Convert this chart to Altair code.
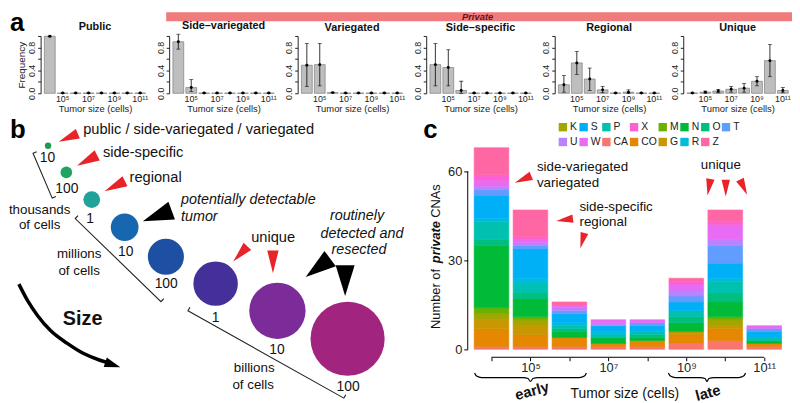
import altair as alt
import pandas as pd

FONT = "Liberation Sans"

# ---------------- panel a : frequency of each class by tumor size ----------------
size_exp = [4, 5, 6, 7, 8, 9, 10, 11]
class_names = ["Public", "Side\u2013variegated", "Variegated",
               "Side\u2013specific", "Regional", "Unique"]

public_mean = [0.995, 0.004, 0.004, 0.004, 0.004, 0.004, 0.004, 0.004]
public_lo = [0.985, 0.0, 0.0, 0.0, 0.0, 0.0, 0.0, 0.0]
public_hi = [1.0, 0.008, 0.008, 0.008, 0.008, 0.008, 0.008, 0.008]

sidevar_mean = [0.90, 0.10, 0.005, 0.004, 0.004, 0.004, 0.004, 0.004]
sidevar_lo = [0.77, 0.03, 0.0, 0.0, 0.0, 0.0, 0.0, 0.0]
sidevar_hi = [1.03, 0.24, 0.01, 0.008, 0.008, 0.008, 0.008, 0.008]

var_mean = [0.49, 0.50, 0.012, 0.004, 0.004, 0.004, 0.004, 0.004]
var_lo = [0.12, 0.13, 0.005, 0.0, 0.0, 0.0, 0.0, 0.0]
var_hi = [0.87, 0.87, 0.02, 0.008, 0.008, 0.008, 0.008, 0.008]

sidespec_mean = [0.50, 0.45, 0.05, 0.005, 0.004, 0.004, 0.004, 0.004]
sidespec_lo = [0.13, 0.13, 0.0, 0.0, 0.0, 0.0, 0.0, 0.0]
sidespec_hi = [0.87, 0.76, 0.21, 0.01, 0.008, 0.008, 0.008, 0.008]

regional_mean = [0.15, 0.53, 0.25, 0.06, 0.005, 0.02, 0.005, 0.004]
regional_lo = [0.02, 0.33, 0.05, 0.01, 0.0, 0.0, 0.0, 0.0]
regional_hi = [0.31, 0.73, 0.44, 0.12, 0.01, 0.06, 0.01, 0.008]

unique_mean = [0.005, 0.02, 0.04, 0.07, 0.09, 0.21, 0.57, 0.05]
unique_lo = [0.0, 0.005, 0.01, 0.02, 0.02, 0.13, 0.29, 0.01]
unique_hi = [0.01, 0.04, 0.07, 0.12, 0.17, 0.29, 0.85, 0.10]

class_values = [
    (public_mean, public_lo, public_hi),
    (sidevar_mean, sidevar_lo, sidevar_hi),
    (var_mean, var_lo, var_hi),
    (sidespec_mean, sidespec_lo, sidespec_hi),
    (regional_mean, regional_lo, regional_hi),
    (unique_mean, unique_lo, unique_hi),
]

# ---------------- panel c : private CNAs per size class ----------------
cna_categories = ["CA", "CO", "G", "K", "M", "N", "O", "P",
                  "R", "S", "T", "U", "W", "X", "Z"]
cna_colors = ["#F8766D", "#E58700", "#C99800", "#A3A500", "#6BB100",
              "#00BA38", "#00BF7D", "#00C0AF", "#00BCD8", "#00B0F6",
              "#619CFF", "#B983FF", "#E76BF3", "#FD61D1", "#FF67A4"]
cna_counts = {
    "CA": [1, 1, 1, 1, 1, 2, 3, 1],
    "CO": [6, 4, 3, 1, 2, 3, 4, 1],
    "G": [3, 3, 0, 0, 0, 1, 1, 0],
    "K": [2, 2, 0, 0, 0, 0, 2, 0],
    "M": [2, 1, 0, 0, 0, 0, 1, 0],
    "N": [21, 6, 2, 2, 1, 3, 5, 1],
    "O": [2, 2, 1, 0, 1, 2, 3, 0],
    "P": [6, 3, 1, 1, 1, 2, 4, 1],
    "R": [1, 2, 1, 1, 0, 0, 1, 0],
    "S": [8, 10, 3, 2, 2, 3, 5, 2],
    "T": [2, 1, 1, 0, 1, 2, 6, 1],
    "U": [1, 1, 1, 1, 0, 2, 2, 0],
    "W": [2, 1, 1, 1, 1, 2, 5, 1],
    "X": [2, 1, 0, 0, 0, 1, 1, 0],
    "Z": [9, 9, 1, 0, 0, 1, 4, 0],
}
legend_order = ["K", "S", "P", "X", "M", "N", "O", "T",
                "U", "W", "CA", "CO", "G", "R", "Z"]

# ---------------- panel b : schematic of tumour growth ----------------
circle_x = [47.5, 66, 91.7, 125, 166.7, 217, 279.5, 350.5]
circle_y = [143, 170, 197.5, 225.5, 255.3, 282.5, 310, 338.3]
circle_d = [6.5, 11.7, 17, 28, 36.5, 45, 57, 75]
circle_col = ["#1E9B50", "#1FA463", "#22A39A", "#1766B0",
              "#1D4FA2", "#45309A", "#7B2C99", "#A1247F"]
circle_lab = ["10", "100", "1", "10", "100", "1", "10", "100"]
circle_lab_x = [47, 66.5, 90, 126, 167, 217, 279, 351]
circle_lab_y = [155, 187, 217, 251, 283, 317, 350, 387]

SUP_EXPR = ("datum.value == 5 ? '10\u2075' : datum.value == 7 ? '10\u2077' : "
            "datum.value == 9 ? '10\u2079' : datum.value == 11 ? '10\u00b9\u00b9' : ''")

TRI_RED = "M0,-1L0.5,1L-0.5,1Z"
TRI_WIDE = "M0,-1L0.62,1L-0.62,1Z"


def panel_a(name, vals, first):
    mean, lo, hi = vals
    df = pd.DataFrame({"exp": size_exp, "mean": mean, "lo": lo, "hi": hi})
    xsc = alt.Scale(paddingInner=0.16, paddingOuter=0.06)
    xax = alt.Axis(labelExpr=SUP_EXPR, ticks=False, domain=False, labelAngle=0,
                   labelFontSize=9, labelPadding=1, title="Tumor size (cells)",
                   titleFontSize=9.5, titleFontWeight="normal", titlePadding=0,
                   labelColor="#222", titleColor="#222", labelFont=FONT, titleFont=FONT)
    ysc = alt.Scale(domain=[0, 1], nice=False, zero=False)
    yax_kw = dict(values=[0, 0.2, 0.4, 0.6, 0.8, 1.0],
                  labelExpr="datum.value == 0 ? '0.0' : datum.value == 0.4 ? '0.4' : datum.value == 0.8 ? '0.8' : ''",
                  labelAngle=270, labelAlign="center", labelBaseline="bottom",
                  labelFontSize=9, labelPadding=1, tickSize=3, tickColor="#222",
                  domainColor="#222", offset=3, grid=False, labelColor="#222",
                  labelFont=FONT)
    if first:
        yax = alt.Axis(title="Frequency", titleFontSize=10, titleFontWeight="normal",
                       titlePadding=1, titleColor="#222", titleFont=FONT, **yax_kw)
    else:
        yax = alt.Axis(title=None, **yax_kw)
    X = alt.X("exp:O", scale=xsc, axis=xax)

    def Y(f):
        return alt.Y(f + ":Q", scale=ysc, axis=yax)

    base = alt.Chart(df)
    bars = base.mark_bar(fill="#BEBEBE", stroke="#6F6F6F", strokeWidth=0.6).encode(x=X, y=Y("mean"))
    err = base.mark_rule(color="black", strokeWidth=0.8).encode(x=X, y=Y("lo"), y2="hi:Q")
    cap_lo = base.mark_tick(color="black", size=4, thickness=0.8).encode(x=X, y=Y("lo"))
    cap_hi = base.mark_tick(color="black", size=4, thickness=0.8).encode(x=X, y=Y("hi"))
    pt = base.mark_circle(color="black", size=9, opacity=1).encode(x=X, y=Y("mean"))
    return alt.layer(bars, err, cap_lo, cap_hi, pt).properties(
        width=104, height=58,
        title=alt.TitleParams(text=name, fontSize=11, fontWeight="bold", offset=3,
                              frame="group", anchor="middle", color="#111", font=FONT))


panels = [panel_a(n, v, i == 0) for i, (n, v) in enumerate(zip(class_names, class_values))]
rowA = alt.hconcat(*panels, spacing=26, bounds="flush")

# ---------------- banner ----------------
banner_df = pd.DataFrame({"start": [167], "end": [800], "mid": [482], "label": ["Private"]})
bnx = alt.Scale(domain=[43, 800], nice=False, zero=False)
banner_rect = alt.Chart(banner_df).mark_rect(color="#F17B7C").encode(
    x=alt.X("start:Q", scale=bnx, axis=None), x2="end:Q",
    y=alt.value(0), y2=alt.value(9))
banner_txt = alt.Chart(banner_df).mark_text(
    font=FONT, fontSize=9.5, fontWeight="bold", fontStyle="italic", color="#6D0F12",
    baseline="middle").encode(x=alt.X("mid:Q", scale=bnx, axis=None), y=alt.value(4.5), text="label:N")
letter_a = alt.Chart(pd.DataFrame({"t": ["a"]})).mark_text(
    font=FONT, fontSize=26, fontWeight="bold", align="left", baseline="alphabetic",
    color="black").encode(x=alt.value(-34), y=alt.value(19), text="t:N")
banner = alt.layer(banner_rect, banner_txt, letter_a).properties(width=757, height=9)

# ---------------- panel b layers ----------------
bX = alt.Scale(domain=[43, 443], nice=False, zero=False)
bY = alt.Scale(domain=[139, 349], nice=False, zero=False, reverse=True)


def bx(f="px"):
    return alt.X(f + ":Q", scale=bX, axis=None)


def by(f="py"):
    return alt.Y(f + ":Q", scale=bY, axis=None)


bracket_df = pd.DataFrame({
    "g": [0] * 4 + [1] * 4 + [2] * 4,
    "i": [0, 1, 2, 3] * 3,
    "px": [36, 32.3, 51.7, 55.4, 77.8, 75, 161.7, 164.5, 191, 189, 346.7, 348.7],
    "py": [149.1, 150.7, 196, 194.4, 213.8, 216.7, 300.7, 297.8, 306.5, 310, 398.3, 394.8],
})
brackets = alt.Chart(bracket_df).mark_line(color="#222", strokeWidth=1.1).encode(
    x=bx(), y=by(), detail="g:N", order="i:Q")

arc_df = pd.DataFrame({"i": list(range(8)),
                       "px": [18, 27, 37, 50, 67, 83, 100, 110],
                       "py": [283, 300, 315, 330, 343, 353, 360, 363]})
arc = alt.Chart(arc_df).mark_line(color="black", strokeWidth=3.5, interpolate="monotone").encode(
    x=bx(), y=by(), order="i:Q")

circ_df = pd.DataFrame({"px": circle_x, "py": circle_y,
                        "d2": [d * d for d in circle_d], "col": circle_col})
circles = alt.Chart(circ_df).mark_circle(opacity=1).encode(
    x=bx(), y=by(), size=alt.Size("d2:Q", scale=None), color=alt.Color("col:N", scale=None))

red_b = pd.DataFrame({"px": [68, 87, 115, 242, 275], "py": [135, 158, 184, 252.5, 260.5],
                      "ang": [247, 243, 244, 223, 180], "len": [21, 23, 23, 21, 23]})
red_b["s"] = red_b["len"] ** 2
red_tri_b = alt.Chart(red_b).mark_point(shape=TRI_RED, filled=True, opacity=1, color="#E8232A",
                                        strokeWidth=0).encode(
    x=bx(), y=by(), angle=alt.Angle("ang:Q", scale=None), size=alt.Size("s:Q", scale=None))

blk_b = pd.DataFrame({"px": [158, 320.5, 348, 113], "py": [214, 266.5, 279.5, 364.5],
                      "ang": [250, 233, 180, 108], "len": [31, 31, 31, 16]})
blk_b["s"] = blk_b["len"] ** 2
blk_tri_b = alt.Chart(blk_b).mark_point(shape=TRI_WIDE, filled=True, opacity=1, color="black",
                                        strokeWidth=0).encode(
    x=bx(), y=by(), angle=alt.Angle("ang:Q", scale=None), size=alt.Size("s:Q", scale=None))


def tlayer_b(df, **kw):
    return alt.Chart(df).mark_text(font=FONT, baseline="middle", color="#111", **kw).encode(
        x=bx(), y=by(), text="t:N", size=alt.Size("fs:Q", scale=None))


b_left = pd.DataFrame({"t": ["public / side-variegated / variegated", "side-specific",
                             "regional", "unique"],
                       "px": [83, 103, 130, 253], "py": [127, 150, 176, 236], "fs": [14.8] * 4})
b_ital_left = pd.DataFrame({"t": ["potentially detectable", "tumor"],
                            "px": [182, 182], "py": [198, 215], "fs": [14.5, 14.5]})
b_ital_c = pd.DataFrame({"t": ["routinely", "detected and", "resected"],
                         "px": [360, 365, 362], "py": [214, 232, 249], "fs": [14.5] * 3})
b_center = pd.DataFrame({
    "t": circle_lab + ["thousands", "of cells", "millions", "of cells", "billions", "of cells"],
    "px": circle_lab_x + [39, 39, 79, 79, 256, 255],
    "py": circle_lab_y + [208, 223, 253, 270, 368, 385],
    "fs": [14] * 8 + [13.5] * 6})
b_size = pd.DataFrame({"t": ["Size"], "px": [82.5], "py": [318], "fs": [20]})

letter_b = alt.Chart(pd.DataFrame({"t": ["b"], "px": [9], "py": [135]})).mark_text(
    font=FONT, fontSize=26, fontWeight="bold", align="left", baseline="alphabetic",
    color="black").encode(x=bx(), y=by(), text="t:N")

panel_b = alt.layer(
    brackets, arc, circles, red_tri_b, blk_tri_b,
    tlayer_b(b_left, align="left"),
    tlayer_b(b_ital_left, align="left", fontStyle="italic"),
    tlayer_b(b_ital_c, align="center", fontStyle="italic"),
    tlayer_b(b_center, align="center"),
    tlayer_b(b_size, align="center", fontWeight="bold"),
    letter_b,
).properties(width=400, height=210)

# ---------------- panel c layers ----------------
C_DOM_X = [3.39, 11.51]
C_DOM_Y = [0, 70]
C_W, C_H, C_LEFT, C_TOP = 320, 210, 472, 139


def c_ex(px):  # page position -> size exponent units of panel c
    return C_DOM_X[0] + (px - C_LEFT) * (C_DOM_X[1] - C_DOM_X[0]) / C_W


def c_ey(py):  # page position -> count units of panel c
    return (C_TOP + C_H - py) * (C_DOM_Y[1] - C_DOM_Y[0]) / C_H


rows = []
for k, cat in enumerate(cna_categories):
    for e, n in zip(size_exp, cna_counts[cat]):
        if n > 0:
            rows.append({"exp": e, "lo": e - 0.445, "hi": e + 0.445, "cat": cat, "n": n, "ord": k})
cdf = pd.DataFrame(rows)

cXs = alt.Scale(domain=C_DOM_X, nice=False, zero=False)
cYs = alt.Scale(domain=C_DOM_Y, nice=False, zero=False)
cXax = alt.Axis(values=size_exp, labelExpr=SUP_EXPR, domain=False, tickSize=3.5,
                tickColor="black", offset=8, labelFontSize=13, labelPadding=1,
                title=None, grid=False, labelColor="#222", labelFont=FONT)
cYax = alt.Axis(values=[0, 30, 60], domain=False, tickSize=4, tickColor="black",
                labelFontSize=13, labelPadding=2, title=None, grid=False,
                labelColor="#222", labelFont=FONT)


def CX(f):
    return alt.X(f + ":Q", scale=cXs, axis=cXax)


def CY(f, **kw):
    return alt.Y(f + ":Q", scale=cYs, axis=cYax, **kw)


color_map = dict(zip(cna_categories, cna_colors))
cat_scale = alt.Scale(domain=legend_order, range=[color_map[c] for c in legend_order])
bars_c = alt.Chart(cdf).transform_stack(
    stack="n", as_=["y0", "y1"], groupby=["exp"],
    sort=[alt.SortField("ord", order="ascending")],
).mark_bar(strokeWidth=0.6).encode(
    x=CX("lo"), x2="hi:Q",
    y=CY("y0"), y2="y1:Q",
    color=alt.Color("cat:N", scale=cat_scale,
                    legend=alt.Legend(title=None, orient="none", legendX=91, legendY=-20,
                                      direction="horizontal", columns=8, symbolType="square",
                                      symbolSize=72, symbolStrokeWidth=0, labelFontSize=10.5,
                                      labelFont=FONT, labelOffset=2, columnPadding=0,
                                      rowPadding=4, labelColor="#222", padding=0,
                                      gridAlign="none", symbolOpacity=1)),
    stroke=alt.Stroke("cat:N", scale=cat_scale, legend=None),
)
yline = alt.Chart(pd.DataFrame({"a": [0], "b": [60]})).mark_rule(color="black", strokeWidth=1).encode(
    x=alt.value(0), y=CY("a"), y2="b:Q")
xline = alt.Chart(pd.DataFrame({"a": [4], "b": [11]})).mark_rule(color="black", strokeWidth=1).encode(
    x=CX("a"), x2="b:Q", y=alt.value(C_H + 8))

brace_px = [479, 481, 486, 528, 533, 535.5, 538, 543, 585, 590, 592,
            675, 677, 682, 707, 712, 714, 716, 721, 746, 751, 753]
brace_py = [373, 376, 377.5, 377.5, 378.5, 381.5, 378.5, 377.5, 377.5, 376, 373] * 2
brace_df = pd.DataFrame({"g": [0] * 11 + [1] * 11, "i": list(range(11)) * 2,
                         "ex": [c_ex(v) for v in brace_px], "ey": [c_ey(v) for v in brace_py]})
braces = alt.Chart(brace_df).mark_line(color="black", strokeWidth=1.2, interpolate="monotone").encode(
    x=CX("ex"), y=CY("ey"), detail="g:N", order="i:Q")

red_c_px = [528, 570, 588, 716, 733, 751]
red_c_py = [177, 218, 239, 185, 186, 185]
red_c = pd.DataFrame({"ex": [c_ex(v) for v in red_c_px], "ey": [c_ey(v) for v in red_c_py],
                      "ang": [247, 262, 195, 190, 180, 155],
                      "len": [18, 17, 16, 17, 17, 17]})
red_c["s"] = red_c["len"] ** 2
red_tri_c = alt.Chart(red_c).mark_point(shape=TRI_RED, filled=True, opacity=1, color="#E8232A",
                                        strokeWidth=0).encode(
    x=CX("ex"), y=CY("ey"), angle=alt.Angle("ang:Q", scale=None), size=alt.Size("s:Q", scale=None))


def ctext(txt, px, py, fs, ang, **kw):
    df = pd.DataFrame({"t": txt, "ex": [c_ex(v) for v in px], "ey": [c_ey(v) for v in py],
                       "fs": fs, "ang": ang})
    return alt.Chart(df).mark_text(font=FONT, baseline="middle", color="#111", **kw).encode(
        x=CX("ex"), y=CY("ey"), text="t:N", size=alt.Size("fs:Q", scale=None),
        angle=alt.Angle("ang:Q", scale=None))


c_texts = [
    ctext(["side-variegated", "variegated", "side-specific", "regional"],
          [542, 542, 585, 585], [165, 181, 205, 220], [13.5] * 4, [0] * 4, align="left"),
    ctext(["unique", "Tumor size (cells)"], [728, 631], [163, 394], [13.5, 14], [0, 0],
          align="center"),
    ctext(["Number of", "CNAs"], [440, 440], [298, 199], [13, 13], [270, 270], align="center"),
    ctext(["private"], [440], [240.5], [13], [270], align="center", fontWeight="bold",
          fontStyle="italic"),
    ctext(["early", "late"], [537, 715], [391, 393], [15, 15], [345, 345], align="center",
          fontWeight="bold"),
]
letter_c = alt.Chart(pd.DataFrame({"t": ["c"]})).mark_text(
    font=FONT, fontSize=26, fontWeight="bold", align="left", baseline="alphabetic",
    color="black").encode(x=alt.value(-45), y=alt.value(-4), text="t:N")

panel_c = alt.layer(bars_c, yline, xline, braces, red_tri_c, *c_texts, letter_c).properties(
    width=C_W, height=C_H)

rowB = alt.hconcat(panel_b, panel_c, spacing=29, bounds="flush").resolve_scale(
    color="independent", stroke="independent")
body = alt.vconcat(rowA, rowB, spacing=107, bounds="flush").resolve_scale(
    color="independent", stroke="independent")
chart = alt.vconcat(banner, body, spacing=15, bounds="flush").resolve_scale(
    color="independent", stroke="independent").properties(padding=0).configure_view(
    strokeWidth=0).configure_axis(labelFont=FONT, titleFont=FONT).configure_text(
    font=FONT).configure_title(font=FONT)

chart.save("out.html", embed_options={"renderer": "svg", "actions": False})
